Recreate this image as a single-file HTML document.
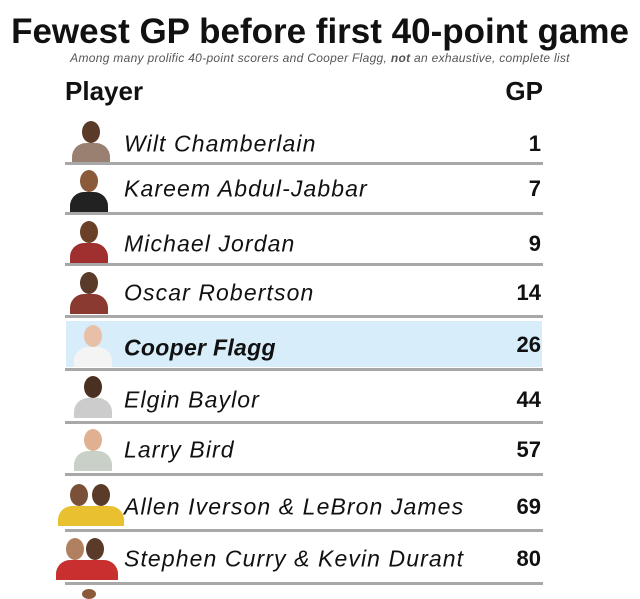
<!DOCTYPE html>
<html><head><style>
body{margin:0;width:640px;height:595px;background:#fff;overflow:hidden;position:relative;font-family:"Liberation Sans",sans-serif;color:#111}
.t{position:absolute;left:0;width:640px;text-align:center;top:12px;font-size:35px;font-weight:bold;letter-spacing:0px}
.s{position:absolute;left:0;width:640px;text-align:center;top:51px;font-size:12px;font-style:italic;color:#555;letter-spacing:0.3px}
.h{position:absolute;top:76px;font-size:26px;font-weight:bold}
.n{position:absolute;left:124px;font-size:23px;font-style:italic;transform:translateY(-50%);white-space:nowrap;letter-spacing:1.1px}
.v{position:absolute;right:99px;font-size:22px;font-weight:bold;transform:translateY(-50%)}
.l{position:absolute;left:65px;width:478px;height:3px;background:#a8a8a8}
.p{position:absolute;width:40px;height:46px;overflow:hidden}
.p .hd{position:absolute;left:12px;top:4px;width:18px;height:22px;border-radius:50%}
.p .bd{position:absolute;left:2px;top:26px;width:38px;height:24px;border-radius:14px 14px 0 0}
</style></head><body>
<div class="t">Fewest GP before first 40-point game</div>
<div class="s">Among many prolific 40-point scorers and Cooper Flagg, <b>not</b> an exhaustive, complete list</div>
<div class="h" style="left:65px">Player</div>
<div class="h" style="right:97px">GP</div>
<div style="position:absolute;left:66px;top:321px;width:476px;height:46px;background:#d7edfa"></div>

<div class="p" style="left:70px;top:117px"><div class="hd" style="background:#5a3a28"></div><div class="bd" style="background:#9a8070"></div></div>
<div class="p" style="left:68px;top:166px"><div class="hd" style="background:#8a5a3a"></div><div class="bd" style="background:#222"></div></div>
<div class="p" style="left:68px;top:217px"><div class="hd" style="background:#6a4028"></div><div class="bd" style="background:#a03030"></div></div>
<div class="p" style="left:68px;top:268px"><div class="hd" style="background:#5a3a28"></div><div class="bd" style="background:#8a3a30"></div></div>
<div class="p" style="left:72px;top:321px"><div class="hd" style="background:#e8c0a8"></div><div class="bd" style="background:#f4f4f4"></div></div>
<div class="p" style="left:72px;top:372px"><div class="hd" style="background:#4a3020"></div><div class="bd" style="background:#ccc"></div></div>
<div class="p" style="left:72px;top:425px"><div class="hd" style="background:#e0b090"></div><div class="bd" style="background:#c8d0c8"></div></div>
<div class="p" style="left:56px;top:480px;width:70px"><div class="hd" style="background:#7a5038;left:14px"></div><div class="hd" style="background:#5a3a28;left:36px"></div><div class="bd" style="background:#e8c030;width:66px"></div></div>
<div class="p" style="left:54px;top:534px;width:66px"><div class="hd" style="background:#b08060;left:12px"></div><div class="hd" style="background:#5a3a28;left:32px"></div><div class="bd" style="background:#c83030;width:62px"></div></div>

<div class="n" style="top:144px">Wilt Chamberlain</div><div class="v" style="top:144px">1</div>
<div class="l" style="top:162px"></div>
<div class="n" style="top:189px">Kareem Abdul-Jabbar</div><div class="v" style="top:189px">7</div>
<div class="l" style="top:212px"></div>
<div class="n" style="top:244px">Michael Jordan</div><div class="v" style="top:244px">9</div>
<div class="l" style="top:263px"></div>
<div class="n" style="top:293px">Oscar Robertson</div><div class="v" style="top:293px">14</div>
<div class="l" style="top:315px"></div>
<div class="n" style="top:348px;font-weight:bold;letter-spacing:0.3px">Cooper Flagg</div><div class="v" style="top:345px">26</div>
<div class="l" style="top:368px"></div>
<div class="n" style="top:400px">Elgin Baylor</div><div class="v" style="top:400px">44</div>
<div class="l" style="top:421px"></div>
<div class="n" style="top:450px">Larry Bird</div><div class="v" style="top:450px">57</div>
<div class="l" style="top:473px"></div>
<div class="n" style="top:507px">Allen Iverson &amp; LeBron James</div><div class="v" style="top:507px">69</div>
<div class="l" style="top:529px"></div>
<div class="n" style="top:559px">Stephen Curry &amp; Kevin Durant</div><div class="v" style="top:559px">80</div>
<div class="l" style="top:582px"></div>
<div style="position:absolute;left:82px;top:589px;width:14px;height:10px;border-radius:50%;background:#8a5a3a"></div>
</body></html>
